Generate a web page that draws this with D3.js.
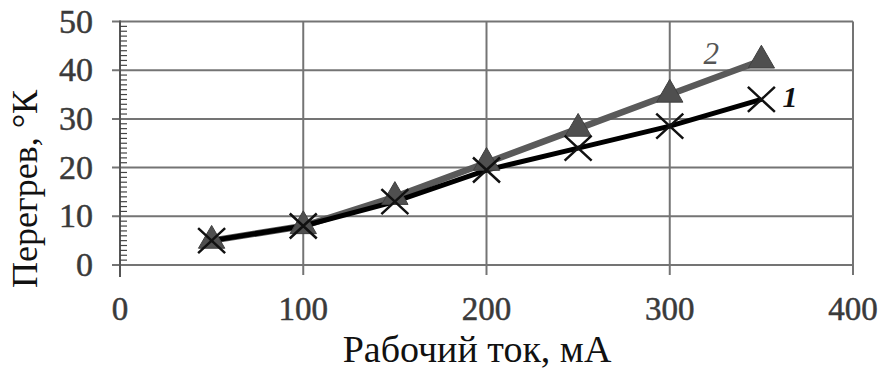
<!DOCTYPE html>
<html>
<head>
<meta charset="utf-8">
<script src="https://cdn.jsdelivr.net/npm/d3@7"></script>
<style>
  html, body { margin: 0; padding: 0; background: #fff; }
  svg { display: block; }
</style>
</head>
<body>
<svg id="chart" width="884" height="372"></svg>
<script>
// Working current, mA
const currents = [50, 100, 150, 200, 250, 300, 350];
// Overheating, K — curve 1 and curve 2
const series1 = [5, 8, 13, 19.5, 24, 28.5, 34];
const series2 = [5, 8, 14, 21, 28, 35, 42];
const xTicks = [0, 100, 200, 300, 400];
const yTicks = [0, 10, 20, 30, 40, 50];
const xTitle = "Рабочий ток, мА";
const yTitle = "Перегрев, °К";

const FONT = "'Liberation Serif', 'Times New Roman', serif";

const svg = d3.select("#chart").attr("font-family", FONT);
const plotLeft = 120, plotRight = 853, plotTop = 21.5, plotBottom = 265;

const x = d3.scaleLinear().domain([0, 400]).range([plotLeft, plotRight]);
const y = d3.scaleLinear().domain([0, 50]).range([plotBottom, plotTop]);

const gridColor = "#747474";

// horizontal grid
svg.append("g").selectAll("line").data(yTicks).join("line")
  .attr("x1", plotLeft - 8).attr("x2", plotRight)
  .attr("y1", d => y(d)).attr("y2", d => y(d))
  .attr("stroke", gridColor).attr("stroke-width", 2);

// vertical grid
svg.append("g").selectAll("line").data(xTicks.slice(1)).join("line")
  .attr("x1", d => x(d)).attr("x2", d => x(d))
  .attr("y1", plotTop).attr("y2", plotBottom + 10)
  .attr("stroke", gridColor).attr("stroke-width", 2);

// y axis line
svg.append("line")
  .attr("x1", plotLeft).attr("x2", plotLeft)
  .attr("y1", plotTop - 1).attr("y2", plotBottom + 12)
  .attr("stroke", "#555").attr("stroke-width", 2);

// minor ticks on the inside of the y axis
svg.append("g").selectAll("line").data(d3.range(1, 50).filter(v => v % 10 !== 0)).join("line")
  .attr("x1", plotLeft).attr("x2", plotLeft + 7)
  .attr("y1", d => y(d)).attr("y2", d => y(d))
  .attr("stroke", "#444").attr("stroke-width", 1.2);

// y tick labels
svg.append("g").selectAll("text").data(yTicks).join("text")
  .attr("x", 93).attr("y", d => y(d) + 11)
  .attr("text-anchor", "end")
  .attr("font-size", 34)
  .attr("fill", "#3a3a3a").attr("stroke", "#3a3a3a").attr("stroke-width", 0.5)
  .text(d => d);

// x tick labels
svg.append("g").selectAll("text").data(xTicks).join("text")
  .attr("x", d => x(d)).attr("y", 320)
  .attr("text-anchor", "middle")
  .attr("font-size", 33)
  .attr("fill", "#3a3a3a").attr("stroke", "#3a3a3a").attr("stroke-width", 0.5)
  .text(d => d);

// axis titles
svg.append("text")
  .attr("x", 477).attr("y", 362)
  .attr("text-anchor", "middle")
  .attr("font-size", 38)
  .attr("fill", "#111")
  .text(xTitle);

svg.append("text")
  .attr("transform", "translate(37,189) rotate(-90)")
  .attr("text-anchor", "middle")
  .attr("font-size", 36)
  .attr("fill", "#111")
  .text(yTitle);

const line = d3.line().x(d => x(d[0])).y(d => y(d[1]));
const pts2 = currents.map((c, i) => [c, series2[i]]);
const pts1 = currents.map((c, i) => [c, series1[i]]);

// curve 2 (gray, triangles)
svg.append("path").datum(pts2)
  .attr("d", line).attr("fill", "none")
  .attr("stroke", "#5a5a5a").attr("stroke-width", 6.5);

// curve 1 (black, crosses)
svg.append("path").datum(pts1)
  .attr("d", line).attr("fill", "none")
  .attr("stroke", "#000").attr("stroke-width", 5);

const tri = d3.symbol().type(d3.symbolTriangle).size(300);
svg.append("g").selectAll("path").data(pts2).join("path")
  .attr("transform", d => `translate(${x(d[0])},${y(d[1])})`)
  .attr("d", tri)
  .attr("fill", "#4f4f4f").attr("stroke", "#404040").attr("stroke-width", 1);

svg.append("g").selectAll("path").data(pts1).join("path")
  .attr("transform", d => `translate(${x(d[0])},${y(d[1])})`)
  .attr("d", "M-13.5,-12.5L13.5,12.5M-13.5,12.5L13.5,-12.5")
  .attr("fill", "none").attr("stroke", "#111").attr("stroke-width", 2.5);

// curve labels
svg.append("text")
  .attr("x", x(350) - 58).attr("y", 64)
  .attr("font-size", 31).attr("font-style", "italic")
  .attr("fill", "#555").text("2");

svg.append("text")
  .attr("x", x(350) + 21).attr("y", 107)
  .attr("font-size", 30).attr("font-style", "italic").attr("font-weight", "bold")
  .attr("fill", "#111").text("1");
</script>
</body>
</html>
